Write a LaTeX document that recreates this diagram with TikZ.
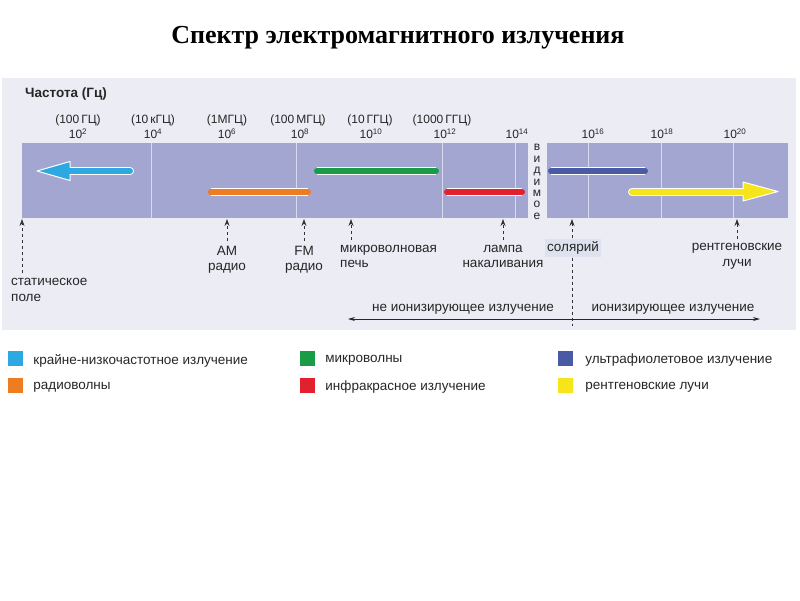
\documentclass[tikz,border=0pt]{standalone}
\usepackage{fontspec}
\setmainfont{Liberation Sans}
\newfontfamily\titlefont{Liberation Serif}
\usepackage{tikz}
\usetikzlibrary{arrows.meta, positioning}

\definecolor{panelgray}{HTML}{ECEDF4}
\definecolor{bandblue}{HTML}{A3A6D1}
\definecolor{gridlight}{HTML}{D9DAEE}
\definecolor{solbox}{HTML}{DEE1EE}
\definecolor{elfblue}{HTML}{2EA8E0}
\definecolor{radioorange}{HTML}{EE7D21}
\definecolor{microgreen}{HTML}{199B48}
\definecolor{irred}{HTML}{E3202E}
\definecolor{uvblue}{HTML}{4A5BA6}
\definecolor{xyellow}{HTML}{F5E51A}

\begin{document}
\begin{tikzpicture}[x=1pt, y=-1pt,
	every node/.style={inner sep=0pt, text=black!85, font=\fontsize{13.5}{15.5}\selectfont},
	freq/.style={font=\fontsize{12}{14}\selectfont},
	bar/.style={line width=6pt, line cap=round, preaction={draw=white, line width=8pt}},
	pointer/.style={-{Stealth[length=7pt, width=5pt]}, dash pattern=on 3pt off 3pt, line width=0.8pt, draw=black!80},
	swatch/.style={minimum size=15pt, inner sep=0pt},
	legtext/.style={yshift=-2pt}]

	\useasboundingbox (0,0) rectangle (800,600);

	\node [font=\titlefont\bfseries\fontsize{26}{30}\selectfont, text=black] (title) at (398,38) {Спектр электромагнитного излучения};

	% panel and band
	\fill [panelgray] (2,78) rectangle (796,330);
	\fill [bandblue] (22,143) rectangle (528,218);
	\fill [bandblue] (547,143) rectangle (788,218);
	\foreach \x in {151,296,442,515,588,661,733}
		\draw [gridlight, line width=1pt] (\x,143) -- (\x,218);

	\node [anchor=west, font=\bfseries\fontsize{13.5}{15}\selectfont] (axis) at (25,94) {Частота (Гц)};

	% frequency scale
	\node [freq] (f2) at (78,120) {(100\,ГЦ)};
	\node [freq] (f4) at (153,120) {(10\,кГЦ)};
	\node [freq] (f6) at (227,120) {(1МГЦ)};
	\node [freq] (f8) at (298,120) {(100\,МГЦ)};
	\node [freq] (f10) at (370,120) {(10\,ГГЦ)};
	\node [freq] (f12) at (442,120) {(1000\,ГГЦ)};
	\node [freq] (p2) at (78,134) {10\textsuperscript{2}};
	\node [freq] (p4) at (153,134) {10\textsuperscript{4}};
	\node [freq] (p6) at (227,134) {10\textsuperscript{6}};
	\node [freq] (p8) at (300,134) {10\textsuperscript{8}};
	\node [freq] (p10) at (371,134) {10\textsuperscript{10}};
	\node [freq] (p12) at (445,134) {10\textsuperscript{12}};
	\node [freq] (p14) at (517,134) {10\textsuperscript{14}};
	\node [freq] (p16) at (593,134) {10\textsuperscript{16}};
	\node [freq] (p18) at (662,134) {10\textsuperscript{18}};
	\node [freq] (p20) at (735,134) {10\textsuperscript{20}};

	\node [align=center, font=\fontsize{12}{11.4}\selectfont] (vis) at (537,182) {в\\и\\д\\и\\м\\о\\е};

	% ranges
	\draw [white, line width=8pt, line cap=round] (130,171) -- (70,171);
	\filldraw [fill=elfblue, draw=white, line width=1pt, line join=round] (37,171) -- (70,161.5) -- (70,180.5) -- cycle;
	\draw [elfblue, line width=6pt, line cap=round] (130,171) -- (64,171);

	\draw [bar, radioorange] (211,192) -- (308,192);
	\draw [bar, microgreen] (317,171) -- (436,171);
	\draw [bar, irred] (447,192) -- (522,192);
	\draw [bar, uvblue] (551,171) -- (645,171);

	\draw [white, line width=8pt, line cap=round] (632,192) -- (745,192);
	\filldraw [fill=xyellow, draw=white, line width=1pt, line join=round] (778,191.5) -- (743,182) -- (743,201) -- cycle;
	\draw [xyellow, line width=6pt, line cap=round] (632,192) -- (750,192);

	% sources
	\coordinate (stat-b) at (22,219);
	\coordinate (am-b) at (227,219);
	\coordinate (fm-b) at (304,219);
	\coordinate (mw-b) at (351,219);
	\coordinate (lamp-b) at (503,219);
	\coordinate (sol-b) at (572,219);
	\coordinate (xr-b) at (737,219);
	\coordinate (sol-e) at (572,326);

	\node [anchor=west, align=left] (stat) at (11,290) {статическое\\поле};
	\node [align=center] (am) at (227,260) {AM\\радио};
	\node [align=center] (fm) at (304,260) {FM\\радио};
	\node [anchor=west, align=left] (mw) at (340,256.5) {микроволновая\\печь};
	\node [align=center] (lamp) at (503,256.5) {лампа\\накаливания};
	\node [fill=solbox, inner xsep=2.5pt, inner ysep=3pt] (sol) at (573,248) {солярий};
	\node [align=center] (xr) at (737,256.5) {рентгеновские\\лучи};

	\draw [pointer] ([yshift=5pt]stat.north -| stat-b) -- (stat-b);
	\draw [pointer] ([yshift=5pt]am.north -| am-b) -- (am-b);
	\draw [pointer] ([yshift=5pt]fm.north -| fm-b) -- (fm-b);
	\draw [pointer] ([yshift=5pt]mw.north -| mw-b) -- (mw-b);
	\draw [pointer] ([yshift=5pt]lamp.north -| lamp-b) -- (lamp-b);
	\draw [pointer] (sol.north -| sol-b) -- (sol-b);
	\draw [pointer] ([yshift=5pt]xr.north -| xr-b) -- (xr-b);
	\draw [dash pattern=on 3pt off 3pt, line width=0.8pt, black!80] (sol.south -| sol-b) -- (sol-e);

	% ionizing / non-ionizing
	\coordinate (ion-l) at (348,319);
	\coordinate (ion-r) at (760,319);
	\draw [{Stealth[length=7pt, width=4pt]}-{Stealth[length=7pt, width=4pt]}, line width=0.8pt, black!85] (ion-l) -- (ion-r);
	\node (nonion) at (463,309) {не ионизирующее излучение};
	\node (ion) at (673,309) {ионизирующее излучение};

	% legend
	\node [swatch, fill=elfblue] (sq1) at (15.5,358.5) {};
	\node [legtext, right=10pt of sq1] (lg1) {крайне-низкочастотное излучение};
	\node [swatch, fill=radioorange] (sq2) at (15.5,385.5) {};
	\node [legtext, right=10pt of sq2] (lg2) {радиоволны};
	\node [swatch, fill=microgreen] (sq3) at (307.5,358.5) {};
	\node [legtext, right=10pt of sq3] (lg3) {микроволны};
	\node [swatch, fill=irred] (sq4) at (307.5,385.5) {};
	\node [legtext, right=10pt of sq4] (lg4) {инфракрасное излучение};
	\node [swatch, fill=uvblue] (sq5) at (565.5,358.5) {};
	\node [legtext, right=12pt of sq5] (lg5) {ультрафиолетовое излучение};
	\node [swatch, fill=xyellow] (sq6) at (565.5,385.5) {};
	\node [legtext, right=12pt of sq6] (lg6) {рентгеновские лучи};

\end{tikzpicture}
\end{document}
